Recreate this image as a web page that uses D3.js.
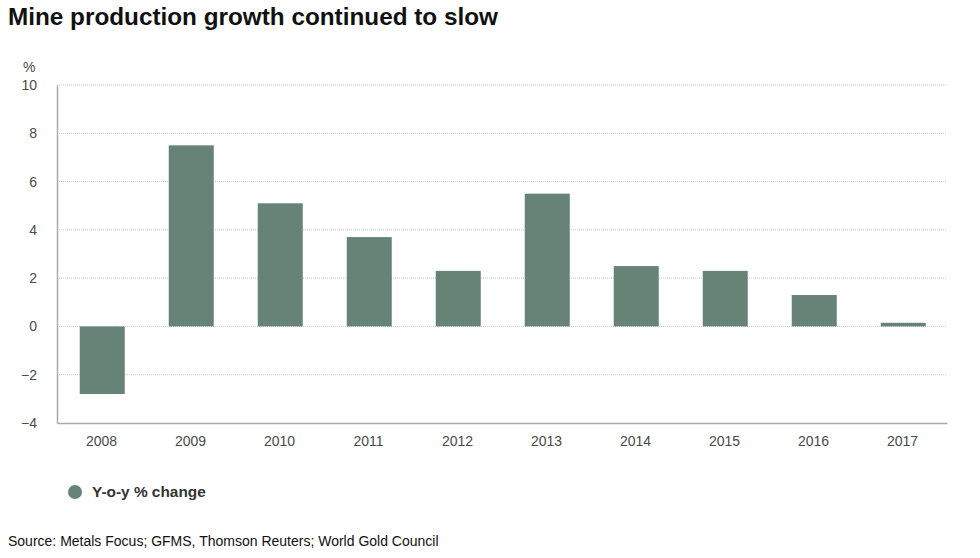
<!DOCTYPE html>
<html><head><meta charset="utf-8">
<script src="https://cdn.jsdelivr.net/npm/d3@7"></script>
<style>
body{margin:0;background:#fff;font-family:"Liberation Sans",Arial,sans-serif;}
</style></head>
<body><svg id="c" width="980" height="558"></svg>
<script>
const years = ["2008","2009","2010","2011","2012","2013","2014","2015","2016","2017"];
const yoyChange = [-2.8,7.5,5.1,3.7,2.3,5.5,2.5,2.3,1.3,0.15];
const yTicks = [-4,-2,0,2,4,6,8,10];
const barColor = "#678276";

const svg = d3.select("#c");
const m = {l:57, r:947, t:85, b:423};
const x = d3.scaleBand().domain(years).range([m.l, m.r]).paddingInner(0.5).paddingOuter(0.25);
const y = d3.scaleLinear().domain([-4,10]).range([m.b, m.t]);

svg.append("text").attr("x",8).attr("y",25).attr("font-size",24.3).attr("font-weight","bold").attr("fill","#111").text("Mine production growth continued to slow");

// gridlines
svg.append("g").selectAll("line").data(yTicks.filter(d=>d>-4)).join("line")
  .attr("x1",m.l).attr("x2",m.r).attr("y1",d=>y(d)).attr("y2",d=>y(d))
  .attr("stroke","#c8c8c8").attr("stroke-width",1).attr("stroke-dasharray","1,1");

// bars
svg.append("g").selectAll("rect").data(years).join("rect")
  .attr("x",d=>x(d)+0.5).attr("width",x.bandwidth()+0.5)
  .attr("y",(d,i)=>y(Math.max(0,yoyChange[i])))
  .attr("height",(d,i)=>Math.abs(y(yoyChange[i])-y(0)))
  .attr("fill",barColor);

// axes
const ya = svg.append("g").attr("transform",`translate(${m.l},0)`).call(d3.axisLeft(y).tickValues(yTicks).tickSize(0).tickPadding(20));
ya.select(".domain").attr("stroke","#aaa").attr("stroke-width",1.5);
ya.selectAll("text").attr("font-size",14).attr("fill","#4a4a4a").attr("font-family","Liberation Sans, Arial, sans-serif");

const xa = svg.append("g").attr("transform",`translate(0,${m.b})`).call(d3.axisBottom(x).tickSize(0).tickPadding(13));
xa.select(".domain").attr("stroke","#aaa").attr("stroke-width",1.5);
xa.selectAll("text").attr("font-size",14).attr("fill","#4a4a4a").attr("font-family","Liberation Sans, Arial, sans-serif");

svg.append("text").attr("x",23).attr("y",72).attr("font-size",14).attr("fill","#4a4a4a").text("%");

// legend
svg.append("circle").attr("cx",75).attr("cy",492).attr("r",7).attr("fill",barColor);
svg.append("text").attr("x",92).attr("y",497).attr("font-size",15.4).attr("font-weight","bold").attr("fill","#333").text("Y-o-y % change");

svg.append("text").attr("x",8).attr("y",546).attr("font-size",14).attr("fill","#111").text("Source: Metals Focus; GFMS, Thomson Reuters; World Gold Council");
</script></body></html>
